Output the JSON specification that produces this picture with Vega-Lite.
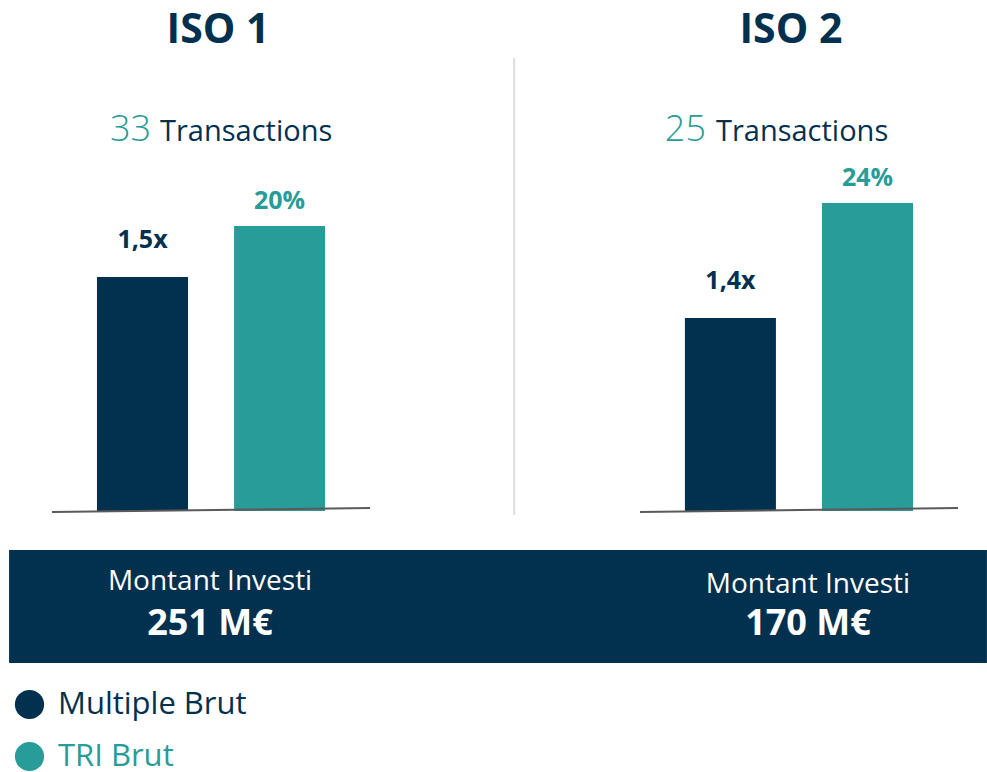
{
  "$schema": "https://vega.github.io/schema/vega-lite/v6.json",
  "width": 987,
  "height": 772,
  "autosize": {"type": "fit", "contains": "padding"},
  "padding": 0,
  "background": "#ffffff",
  "config": {
    "view": {"stroke": null},
    "text": {"font": "Open Sans"},
    "legend": {
      "orient": "none",
      "legendX": 14,
      "legendY": 689,
      "padding": 0,
      "symbolType": "circle",
      "symbolSize": 855,
      "symbolOpacity": 1,
      "symbolStrokeWidth": 0,
      "labelFont": "Open Sans",
      "labelFontSize": 31,
      "labelOffset": 13,
      "labelLimit": 500,
      "rowPadding": 20,
      "title": null
    }
  },
  "datasets": {
    "bars": [
      {"iso": "ISO 1", "metric": "Multiple Brut", "hauteur": 234, "libelle": "1,5x"},
      {"iso": "ISO 1", "metric": "TRI Brut", "hauteur": 285, "libelle": "20%"},
      {"iso": "ISO 2", "metric": "Multiple Brut", "hauteur": 193, "libelle": "1,4x"},
      {"iso": "ISO 2", "metric": "TRI Brut", "hauteur": 308, "libelle": "24%"}
    ],
    "isos": [
      {"iso": "ISO 1", "transactions": 33, "montant": "251 M€"},
      {"iso": "ISO 2", "transactions": 25, "montant": "170 M€"}
    ],
    "decor": [{"element": "bandeau"}]
  },
  "layer": [
    {
      "data": {"name": "decor"},
      "mark": {"type": "rule", "color": "#dedede", "strokeWidth": 2},
      "encoding": {
        "x": {"datum": "ISO 1", "bandPosition": 1.453, "type": "nominal", "scale": {"type": "band", "domain": ["ISO 1", "ISO 2"], "paddingInner": 0.459, "paddingOuter": 0.0689, "align": 0.642}, "axis": null},
        "y": {"datum": 453, "type": "quantitative", "scale": {"domain": [-261, 511], "nice": false, "zero": false}, "axis": null},
        "y2": {"datum": -4}
      }
    },
    {
      "data": {"name": "bars"},
      "mark": {"type": "bar"},
      "encoding": {
        "x": {"field": "iso", "type": "nominal", "axis": null},
        "xOffset": {"field": "metric", "type": "nominal", "scale": {"paddingInner": 0.336, "paddingOuter": 0.328}},
        "y": {"field": "hauteur", "type": "quantitative", "axis": null},
        "color": {"field": "metric", "type": "nominal", "scale": {"domain": ["Multiple Brut", "TRI Brut"], "range": ["#02304F", "#279C98"]},
          "legend": {"encode": {"labels": {"update": {"fill": {"signal": "datum.value === 'TRI Brut' ? '#279C98' : '#02304F'"}}}}}}
      }
    },
    {
      "data": {"name": "bars"},
      "transform": [{"filter": "datum.metric === 'Multiple Brut'"}],
      "mark": {"type": "text", "fontSize": 25, "fontWeight": "bold", "baseline": "alphabetic", "dy": -29},
      "encoding": {
        "x": {"field": "iso", "type": "nominal"},
        "xOffset": {"field": "metric", "type": "nominal"},
        "y": {"field": "hauteur", "type": "quantitative"},
        "text": {"field": "libelle"},
        "color": {"field": "metric", "type": "nominal"}
      }
    },
    {
      "data": {"name": "bars"},
      "transform": [{"filter": "datum.metric === 'TRI Brut'"}],
      "mark": {"type": "text", "fontSize": 25, "fontWeight": "bold", "baseline": "alphabetic", "dy": -17},
      "encoding": {
        "x": {"field": "iso", "type": "nominal"},
        "xOffset": {"field": "metric", "type": "nominal"},
        "y": {"field": "hauteur", "type": "quantitative"},
        "text": {"field": "libelle"},
        "color": {"field": "metric", "type": "nominal"}
      }
    },
    {
      "data": {"name": "isos"},
      "mark": {"type": "rule", "color": "#5a5a5a", "strokeWidth": 2},
      "encoding": {
        "x": {"field": "iso", "type": "nominal", "bandPosition": 0},
        "x2": {"field": "iso", "bandPosition": 1},
        "y": {"datum": -1},
        "y2": {"datum": 3}
      }
    },
    {
      "data": {"name": "isos"},
      "transform": [{"filter": "datum.iso === 'ISO 1'"}],
      "mark": {"type": "text", "fontSize": 41, "fontWeight": "bold", "color": "#02304F", "baseline": "alphabetic", "dx": 7},
      "encoding": {
        "x": {"field": "iso", "type": "nominal"},
        "y": {"datum": 468},
        "text": {"field": "iso"}
      }
    },
    {
      "data": {"name": "isos"},
      "transform": [{"filter": "datum.iso === 'ISO 2'"}],
      "mark": {"type": "text", "fontSize": 41, "fontWeight": "bold", "color": "#02304F", "baseline": "alphabetic", "dx": -8},
      "encoding": {
        "x": {"field": "iso", "type": "nominal"},
        "y": {"datum": 468},
        "text": {"field": "iso"}
      }
    },
    {
      "data": {"name": "isos"},
      "transform": [{"filter": "datum.iso === 'ISO 1'"}],
      "mark": {"type": "text", "fontSize": 36, "fontWeight": 300, "color": "#279C98", "baseline": "alphabetic", "align": "right", "dx": -60},
      "encoding": {
        "x": {"field": "iso", "type": "nominal"},
        "y": {"datum": 370},
        "text": {"field": "transactions"}
      }
    },
    {
      "data": {"name": "isos"},
      "transform": [{"filter": "datum.iso === 'ISO 1'"}],
      "mark": {"type": "text", "fontSize": 29, "color": "#02304F", "baseline": "alphabetic", "align": "left", "dx": -51},
      "encoding": {
        "x": {"field": "iso", "type": "nominal"},
        "y": {"datum": 370},
        "text": {"value": "Transactions"}
      }
    },
    {
      "data": {"name": "isos"},
      "transform": [{"filter": "datum.iso === 'ISO 2'"}],
      "mark": {"type": "text", "fontSize": 36, "fontWeight": 300, "color": "#279C98", "baseline": "alphabetic", "align": "right", "dx": -93},
      "encoding": {
        "x": {"field": "iso", "type": "nominal"},
        "y": {"datum": 370},
        "text": {"field": "transactions"}
      }
    },
    {
      "data": {"name": "isos"},
      "transform": [{"filter": "datum.iso === 'ISO 2'"}],
      "mark": {"type": "text", "fontSize": 29, "color": "#02304F", "baseline": "alphabetic", "align": "left", "dx": -83},
      "encoding": {
        "x": {"field": "iso", "type": "nominal"},
        "y": {"datum": 370},
        "text": {"value": "Transactions"}
      }
    },
    {
      "data": {"name": "decor"},
      "mark": {"type": "rect", "color": "#02304F"},
      "encoding": {
        "x": {"datum": "ISO 1", "bandPosition": -0.135},
        "x2": {"datum": "ISO 2", "bandPosition": 1.091},
        "y": {"datum": -39},
        "y2": {"datum": -152}
      }
    },
    {
      "data": {"name": "isos"},
      "transform": [{"filter": "datum.iso === 'ISO 1'"}],
      "mark": {"type": "text", "fontSize": 28, "color": "#ffffff", "baseline": "alphabetic", "dx": -1},
      "encoding": {
        "x": {"field": "iso", "type": "nominal"},
        "y": {"datum": -79},
        "text": {"value": "Montant Investi"}
      }
    },
    {
      "data": {"name": "isos"},
      "transform": [{"filter": "datum.iso === 'ISO 1'"}],
      "mark": {"type": "text", "fontSize": 36, "fontWeight": "bold", "color": "#ffffff", "baseline": "alphabetic", "dx": -1},
      "encoding": {
        "x": {"field": "iso", "type": "nominal"},
        "y": {"datum": -124},
        "text": {"field": "montant"}
      }
    },
    {
      "data": {"name": "isos"},
      "transform": [{"filter": "datum.iso === 'ISO 2'"}],
      "mark": {"type": "text", "fontSize": 28, "color": "#ffffff", "baseline": "alphabetic", "dx": 9},
      "encoding": {
        "x": {"field": "iso", "type": "nominal"},
        "y": {"datum": -82},
        "text": {"value": "Montant Investi"}
      }
    },
    {
      "data": {"name": "isos"},
      "transform": [{"filter": "datum.iso === 'ISO 2'"}],
      "mark": {"type": "text", "fontSize": 36, "fontWeight": "bold", "color": "#ffffff", "baseline": "alphabetic", "dx": 9},
      "encoding": {
        "x": {"field": "iso", "type": "nominal"},
        "y": {"datum": -124},
        "text": {"field": "montant"}
      }
    }
  ]
}
